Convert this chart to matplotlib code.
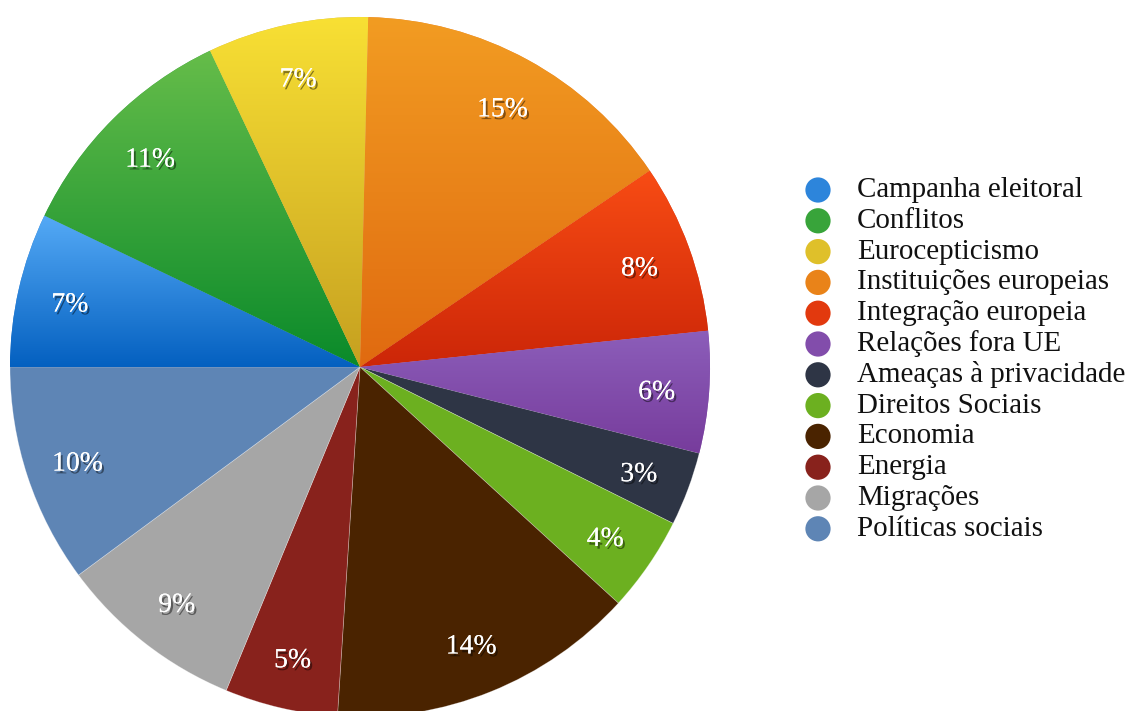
import numpy as np
import matplotlib
matplotlib.use("Agg")
import matplotlib.pyplot as plt
import matplotlib.patheffects as pe
from matplotlib.colors import LinearSegmentedColormap

plt.rcParams['font.family'] = ['Liberation Serif', 'DejaVu Serif']

# Topic shares (percent)
topics = ['Campanha eleitoral', 'Conflitos', 'Eurocepticismo', 'Instituições europeias',
          'Integração europeia', 'Relações fora UE', 'Ameaças à privacidade',
          'Direitos Sociais', 'Economia', 'Energia', 'Migrações', 'Políticas sociais']
shares = [7.1, 10.8, 7.4, 15.1, 7.8, 5.6, 3.4, 4.4, 14.2, 5.2, 8.6, 10.1]

# (top colour, bottom colour) for each slice
top_colors = ['#55aaf6', '#66bd4a', '#f8e034', '#f29c22', '#f84c14', '#8c5eba',
              '#2e3545', '#6cb020', '#4a2300', '#88221c', '#a6a6a6', '#5e85b5']
bottom_colors = ['#0460c0', '#0a8a2a', '#c6a020', '#e06a10', '#cc2608', '#773c9c',
                 '#2e3545', '#6cb020', '#4a2300', '#88221c', '#a6a6a6', '#5e85b5']

W, H = 1131, 711
fig = plt.figure(figsize=(W / 100, H / 100), dpi=100)
ax = fig.add_axes([0, 0, 1, 1])
ax.set_xlim(0, W)
ax.set_ylim(0, H)
ax.axis('off')

wedges, texts, autotexts = ax.pie(
    shares, colors=bottom_colors, startangle=180, counterclock=False,
    center=(360, H - 367), radius=350, autopct='%.0f%%', pctdistance=0.85,
    wedgeprops=dict(linewidth=0.5, edgecolor=(1, 1, 1, 0.35)),
    textprops=dict(color='white', fontsize=20))
ax.set_xlim(0, W)
ax.set_ylim(0, H)
ax.set_aspect('equal', adjustable='datalim')

# vertical light-to-dark gradient inside each slice
grad = np.linspace(1, 0, 256).reshape(-1, 1)
for w, c0, c1 in zip(wedges, top_colors, bottom_colors):
    if c0 == c1:
        continue
    bb = w.get_path().get_extents()
    cmap = LinearSegmentedColormap.from_list('g', [c1, c0])
    im = ax.imshow(grad, cmap=cmap, aspect='auto', origin='upper',
                   extent=(bb.x0, bb.x1, bb.y0, bb.y1), zorder=1.5,
                   interpolation='bicubic')
    im.set_clip_path(w)

for t in autotexts:
    x, y = t.get_position()
    t.set_position((x, y - 4))
    t.set_zorder(5)
    t.set_path_effects([pe.withSimplePatchShadow(offset=(1.5, -2), shadow_rgbFace='black', alpha=0.45),
                        pe.Normal()])

# legend: coloured dots and names on the right
row0, step = 190, 30.8
for i, (name, c0, c1) in enumerate(zip(topics, top_colors, bottom_colors)):
    y = H - (row0 + i * step)
    ax.scatter([818], [y], s=330, color=c1 if c0 == c1 else
               LinearSegmentedColormap.from_list('m', [c1, c0])(0.5),
               edgecolors='none', zorder=4, clip_on=False)
    ax.text(857, y, name, fontsize=20.9, color='#111111', va='center', ha='left')

fig.savefig('out.png', dpi=100, facecolor='white')
